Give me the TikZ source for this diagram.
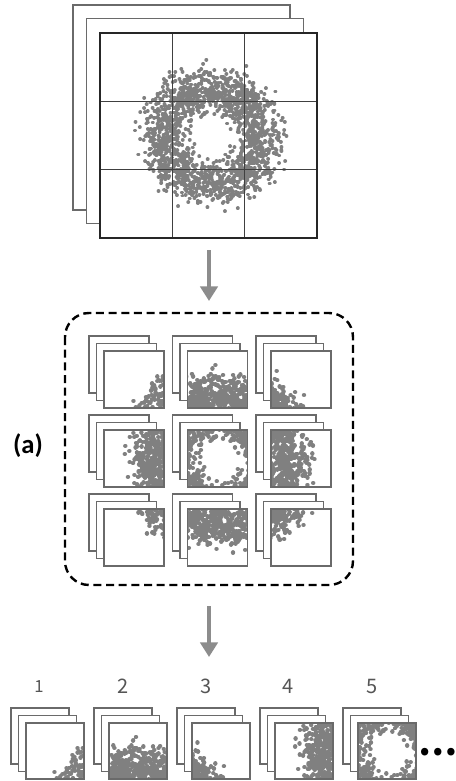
\documentclass[tikz,border=0pt]{standalone}
\usepackage{fontspec}
\setmainfont{Carlito}
\newfontfamily\cjkfont{Noto Sans CJK SC}
\usetikzlibrary{arrows.meta}
\definecolor{dotgray}{HTML}{808080}
\definecolor{sheetline}{HTML}{6A6A6A}
\definecolor{arrowgray}{HTML}{8C8C8C}
\definecolor{labelgray}{HTML}{555555}
\tikzset{
  sheet/.style={draw=sheetline, line width=0.9pt, fill=white},
  frontline/.style={draw=sheetline, line width=0.9pt},
  bigfront/.style={draw=black!85, line width=1pt},
  gridline/.style={draw=black!75, line width=0.7pt},
  ringdot/.style={draw=dotgray, line cap=round, line width=2.9pt},
  celldot/.style={draw=dotgray, line cap=round, line width=3.3pt},
  flowarrow/.style={draw=arrowgray, line width=3.6pt, -{Triangle[width=13pt,length=11pt]}},
  groupbox/.style={draw=black, line width=1.8pt, dash pattern=on 6pt off 3.5pt, rounded corners=18pt},
  numlabel/.style={text=labelgray, font=\cjkfont\fontsize{15}{15}\selectfont, inner sep=0pt},
}
\newcommand\addtocell[3]{%
  \expandafter\xdef\csname ringcell#1#2\endcsname{%
    \unexpanded\expandafter\expandafter\expandafter{\csname ringcell#1#2\endcsname}#3}%
}
% #1,#2 = top-left of front sheet; #3,#4 = column,row of the big grid cell; #5,#6 = width,height; #7 = name
\newcommand\cellstack[7]{%
  \draw[sheet] (#1-15,#2-15) rectangle ++(#5,#6);
  \draw[sheet] (#1-7.5,#2-7.5) rectangle ++(#5,#6);
  \fill[white] (#1,#2) rectangle ++(#5,#6);
  \begin{scope}[shift={(#1,#2)}, xscale=#5/72, yscale=#6/68, shift={(-100-72*#3,-33-68*#4)}]
    \clip (100+72*#3,33+68*#4) rectangle ++(72,68);
    \expandafter\let\expandafter\thiscell\csname ringcell#3#4\endcsname
    \draw[celldot] \thiscell;
  \end{scope}
  \draw[frontline] (#1,#2) rectangle ++(#5,#6);
  \coordinate (#7) at (#1+#5/2,#2+#6/2);
}
\begin{document}
\begin{tikzpicture}[x=0.75pt,y=-0.75pt]
\useasboundingbox (0,0) rectangle (456,781);
% ring of points (big view) and its enlarged copy split by grid cell (small views)
\pgfmathsetseed{20240}
\foreach \c in {0,1,2}{\foreach \r in {0,1,2}{\expandafter\gdef\csname ringcell\c\r\endcsname{}}}
\gdef\ringbig{}
\foreach \k in {1,...,1700}{%
  \pgfmathsetmacro\ang{360*rnd}%
  \pgfmathsetmacro\rr{50+11.5*(rand+rand+rand)}%
  \pgfmathsetmacro\px{212+\rr*cos(\ang)}%
  \pgfmathsetmacro\py{137+0.96*\rr*sin(\ang)}%
  \pgfmathsetmacro\qx{212+1.13*\rr*cos(\ang)}%
  \pgfmathsetmacro\qy{137+1.13*0.96*\rr*sin(\ang)}%
  \xdef\ringbig{\unexpanded\expandafter{\ringbig}(\px,\py)--++(0.05,0)}%
  \foreach \c in {0,1,2}{\foreach \r in {0,1,2}{%
    \ifdim\qx pt>\the\numexpr97+72*\c\relax pt
     \ifdim\qx pt<\the\numexpr175+72*\c\relax pt
      \ifdim\qy pt>\the\numexpr30+68*\r\relax pt
       \ifdim\qy pt<\the\numexpr104+68*\r\relax pt
         \addtocell{\c}{\r}{(\qx,\qy)--++(0.05,0)}%
       \fi\fi\fi\fi
  }}%
}
% big stack
\draw[sheet] (73,5) rectangle ++(217,205);
\draw[sheet] (86.5,18.5) rectangle ++(217,205);
\fill[white] (100,33) rectangle (317,238);
\draw[ringdot] \ringbig;
\draw[gridline] (172,33) -- (172,238) (244,33) -- (244,238)
  (100,101.3) -- (317,101.3) (100,169.7) -- (317,169.7);
\draw[bigfront] (100,33) rectangle (317,238);
\coordinate (big) at (208,135);

% arrow 1
\coordinate (a1s) at (209,250);
\coordinate (a1e) at (209,301);
\draw[flowarrow] (a1s) -- (a1e);

% dashed group
\draw[groupbox] (65,313) rectangle (353,585);
\foreach \c in {0,1,2}{
  \foreach \r in {0,1,2}{
    \pgfmathsetmacro\pxx{104+83.5*\c}
    \pgfmathsetmacro\pyy{351+79*\r}
    \cellstack{\pxx}{\pyy}{\c}{\r}{60}{57}{g\c\r}
  }
}
\node[font=\bfseries\fontsize{20}{20}\selectfont, inner sep=0pt] (lab) at (28,446) {(a)};

% arrow 2
\coordinate (a2s) at (209,606);
\coordinate (a2e) at (209,657);
\draw[flowarrow] (a2s) -- (a2e);

% bottom sequence
\cellstack{26}{723}{0}{0}{58}{56}{s1}
\cellstack{109}{723}{1}{0}{58}{56}{s2}
\cellstack{192}{723}{2}{0}{58}{56}{s3}
\cellstack{275}{723}{0}{1}{58}{56}{s4}
\cellstack{358}{723}{1}{1}{58}{56}{s5}
\node[numlabel, font=\cjkfont\fontsize{12.5}{12.5}\selectfont] (n1) at (39,687) {1};
\node[numlabel] (n2) at (123,686) {2};
\node[numlabel] (n3) at (206,686) {3};
\node[numlabel] (n4) at (288,686) {4};
\node[numlabel] (n5) at (372,686) {5};
\node[font=\cjkfont\bfseries\fontsize{26}{26}\selectfont, inner sep=0pt] (more) at (438,752) {…};
\end{tikzpicture}
\end{document}
